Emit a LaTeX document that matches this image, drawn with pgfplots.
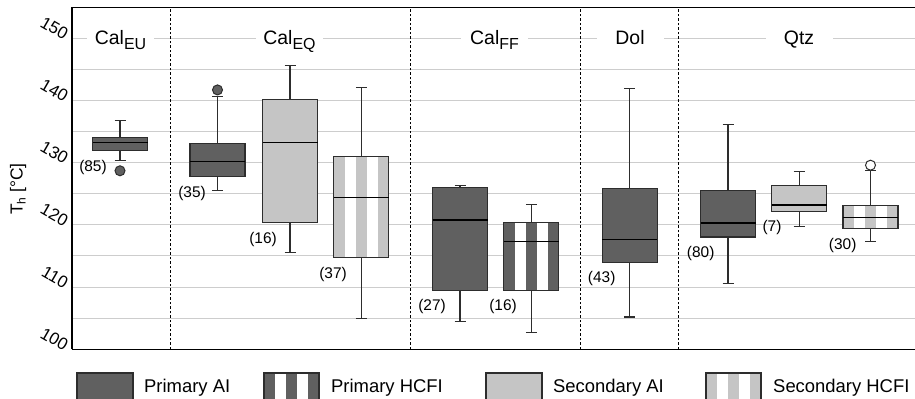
\documentclass[border=0pt]{standalone}
\usepackage{fontspec}
\setmainfont{Liberation Sans}
\usepackage{pgfplots}
\pgfplotsset{compat=1.18}
\usepgfplotslibrary{statistics}
\definecolor{dg}{RGB}{96,96,96}
\definecolor{lg}{RGB}{197,197,197}
\definecolor{gridc}{RGB}{205,205,205}
\definecolor{edge}{RGB}{45,45,45}
\newcommand{\sub}[1]{\raisebox{-4.3bp}{\fontsize{16}{16}\selectfont #1}}
\pgfplotsset{
  bp/.style={
    boxplot/draw direction=y,
    boxplot/every box/.style={draw=edge, fill=#1, line width=1.1bp},
    boxplot/every whisker/.style={draw=edge, line width=1.1bp},
    boxplot/every median/.style={draw=black, line width=1.2bp},
    mark=*, mark size=5bp, mark options={fill=dg, draw=edge, line width=1bp},
  },
}
\begin{document}
\begin{tikzpicture}
\begin{axis}[
  at={(72bp,49.7bp)}, anchor=south west,
  width=843bp, height=342.1bp, scale only axis,
  xmin=72, xmax=915, ymin=100, ymax=155,
  axis y line*=left,
  xtick=\empty,
  ytick={100,110,...,150},
  minor ytick={105,115,...,145},
  ymajorgrids, yminorgrids,
  major grid style={gridc, line width=1bp},
  minor grid style={gridc, line width=1bp},
  major tick length=0pt, minor tick length=0pt,
  /pgf/number format/assume math mode=true,
  yticklabel style={rotate=-30, anchor=east, inner sep=0pt, xshift=-6bp,
    font=\fontsize{17}{17}\selectfont},
  axis line style={line width=1.1bp, black},
  boxplot/draw direction=y,
]
% separators
\addplot[black, line width=1bp, dash pattern=on 2.5bp off 2bp] coordinates {(170,100) (170,155)};
\addplot[black, line width=1bp, dash pattern=on 2.5bp off 2bp] coordinates {(410.7,100) (410.7,155)};
\addplot[black, line width=1bp, dash pattern=on 2.5bp off 2bp] coordinates {(580.7,100) (580.7,155)};
\addplot[black, line width=1bp, dash pattern=on 2.5bp off 2bp] coordinates {(678.7,100) (678.7,155)};

% Cal_EU Primary AI
\addplot[bp=dg, boxplot prepared={draw position=120, lower whisker=130.3, lower quartile=131.9, median=133.2, upper quartile=134.0, upper whisker=136.75, box extend=55, whisker extend=11}] coordinates {(0,128.7)};
% Cal_EQ Primary AI
\addplot[bp=dg, boxplot prepared={draw position=217.5, lower whisker=125.5, lower quartile=127.75, median=130.2, upper quartile=133.1, upper whisker=140.6, box extend=55, whisker extend=11}] coordinates {(0,141.7)};
% Cal_EQ Secondary AI
\addplot[bp=lg, boxplot prepared={draw position=290, lower whisker=115.5, lower quartile=120.35, median=133.2, upper quartile=140.2, upper whisker=145.66, box extend=55, whisker extend=11}] coordinates {};
% Cal_EQ Secondary HCFI (striped)
\addplot[fill=lg, draw=none] coordinates {(333.8,114.7) (388.8,114.7) (388.8,131.0) (333.8,131.0)} --cycle;
\addplot[fill=white, draw=none] coordinates {(344.8,114.7) (355.8,114.7) (355.8,131.0) (344.8,131.0)} --cycle;
\addplot[fill=white, draw=none] coordinates {(366.8,114.7) (377.8,114.7) (377.8,131.0) (366.8,131.0)} --cycle;
\addplot[bp=none, boxplot prepared={draw position=361.3, lower whisker=104.9, lower quartile=114.7, median=124.4, upper quartile=131.0, upper whisker=142.1, box extend=55, whisker extend=11}] coordinates {};
% Cal_FF Primary AI
\addplot[bp=dg, boxplot prepared={draw position=460, lower whisker=104.5, lower quartile=109.5, median=120.8, upper quartile=126.0, upper whisker=126.3, box extend=55, whisker extend=11}] coordinates {};
% Cal_FF Primary HCFI (striped)
\addplot[fill=dg, draw=none] coordinates {(503.8,109.5) (558.8,109.5) (558.8,120.4) (503.8,120.4)} --cycle;
\addplot[fill=white, draw=none] coordinates {(514.8,109.5) (525.8,109.5) (525.8,120.4) (514.8,120.4)} --cycle;
\addplot[fill=white, draw=none] coordinates {(536.8,109.5) (547.8,109.5) (547.8,120.4) (536.8,120.4)} --cycle;
\addplot[bp=none, boxplot prepared={draw position=531.3, lower whisker=102.7, lower quartile=109.5, median=117.3, upper quartile=120.4, upper whisker=123.3, box extend=55, whisker extend=11}] coordinates {};
% Dol Primary AI
\addplot[bp=dg, boxplot prepared={draw position=629.7, lower whisker=105.2, lower quartile=114.0, median=117.7, upper quartile=125.8, upper whisker=142.0, box extend=55, whisker extend=11}] coordinates {};
% Qtz Primary AI
\addplot[bp=dg, boxplot prepared={draw position=728, lower whisker=110.55, lower quartile=118.05, median=120.3, upper quartile=125.6, upper whisker=136.2, box extend=55, whisker extend=11}] coordinates {};
% Qtz Secondary AI
\addplot[bp=lg, boxplot prepared={draw position=799.2, lower whisker=119.7, lower quartile=122.1, median=123.2, upper quartile=126.4, upper whisker=128.55, box extend=55, whisker extend=11}] coordinates {};
% Qtz Secondary HCFI (striped)
\addplot[fill=lg, draw=none] coordinates {(843,119.35) (898,119.35) (898,123.1) (843,123.1)} --cycle;
\addplot[fill=white, draw=none] coordinates {(854,119.35) (865,119.35) (865,123.1) (854,123.1)} --cycle;
\addplot[fill=white, draw=none] coordinates {(876,119.35) (887,119.35) (887,123.1) (876,123.1)} --cycle;
\addplot[bp=none, mark options={fill=white, draw=edge, line width=1bp}, boxplot prepared={draw position=870.5, lower whisker=117.3, lower quartile=119.35, median=121.2, upper quartile=123.1, upper whisker=128.8, box extend=55, whisker extend=11}] coordinates {(0,129.6)};

% group labels
\tikzset{grp/.style={fill=white, minimum width=67bp, inner xsep=0pt, inner ysep=1bp, anchor=base, font=\fontsize{19.5}{20}\selectfont}}
\node[grp] at (axis cs:120.5,148.95) {Cal\sub{EU}};
\node[grp] at (axis cs:289.5,148.95) {Cal\sub{EQ}};
\node[grp] at (axis cs:494.5,148.95) {Cal\sub{FF}};
\node[grp] at (axis cs:630,148.95) {Dol};
\node[grp] at (axis cs:799,148.95) {Qtz};

% counts
\tikzset{cnt/.style={font=\fontsize{15.5}{16}\selectfont, inner sep=0pt}}
\node[cnt] at (axis cs:93,129.15) {(85)};
\node[cnt] at (axis cs:192,125.1) {(35)};
\node[cnt] at (axis cs:263,117.7) {(16)};
\node[cnt] at (axis cs:333,111.95) {(37)};
\node[cnt] at (axis cs:432,106.85) {(27)};
\node[cnt] at (axis cs:503,106.85) {(16)};
\node[cnt] at (axis cs:601.7,111.35) {(43)};
\node[cnt] at (axis cs:700.7,115.4) {(80)};
\node[cnt] at (axis cs:772,119.55) {(7)};
\node[cnt] at (axis cs:842.7,116.65) {(30)};
\end{axis}

% y label
\node[rotate=90, font=\fontsize{17.5}{18}\selectfont] at (18bp,210bp) {T\raisebox{-3bp}{\fontsize{12}{12}\selectfont h} [°C]};

% legend
\begin{scope}[line width=1.1bp]
\filldraw[fill=dg, draw=edge] (77bp,-3bp) rectangle (133bp,26bp);
\fill[dg] (264bp,-3bp) rectangle (319bp,26bp);
\fill[white] (275bp,-3bp) rectangle (286bp,26bp);
\fill[white] (297bp,-3bp) rectangle (308bp,26bp);
\draw[edge] (264bp,-3bp) rectangle (319bp,26bp);
\filldraw[fill=lg, draw=edge] (486bp,-3bp) rectangle (542bp,26bp);
\fill[lg] (706bp,-3bp) rectangle (761bp,26bp);
\fill[white] (717bp,-3bp) rectangle (728bp,26bp);
\fill[white] (739bp,-3bp) rectangle (750bp,26bp);
\draw[edge] (706bp,-3bp) rectangle (761bp,26bp);
\end{scope}
\tikzset{lgt/.style={anchor=base west, inner sep=0pt, font=\fontsize{18.5}{19}\selectfont}}
\node[lgt] at (144bp,7bp) {Primary AI};
\node[lgt] at (331bp,7bp) {Primary HCFI};
\node[lgt] at (553bp,7bp) {Secondary AI};
\node[lgt] at (773bp,7bp) {Secondary HCFI};

\pgfresetboundingbox
\path[use as bounding box] (0bp,0bp) rectangle (915bp,399bp);
\end{tikzpicture}
\end{document}
